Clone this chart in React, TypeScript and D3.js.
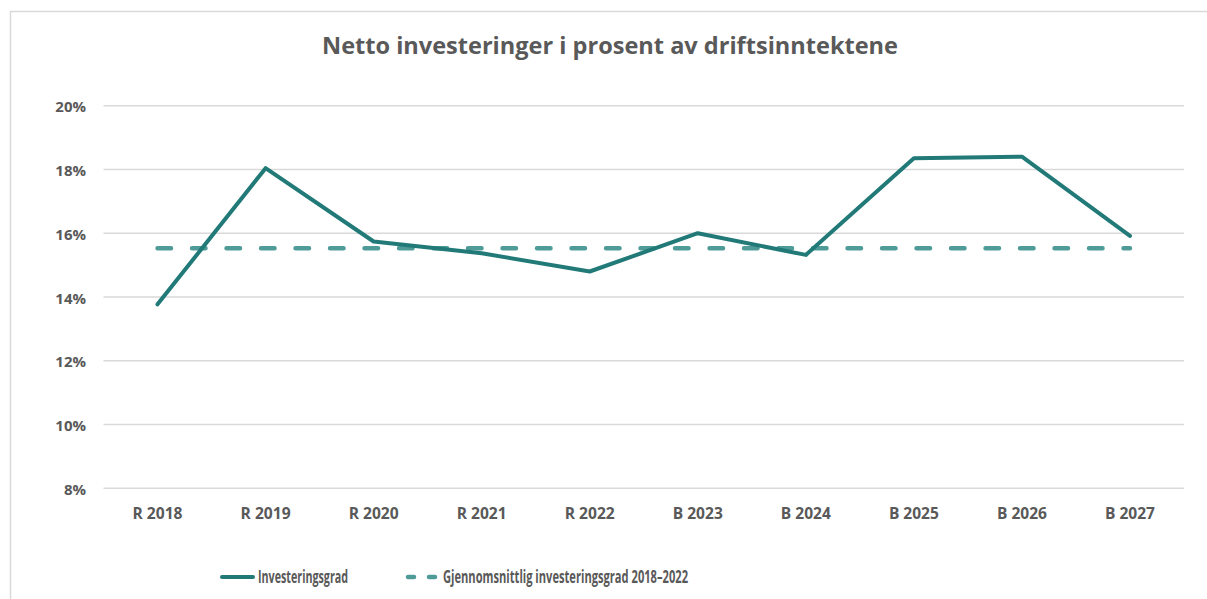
import React from "react";
import * as d3 from "d3";

const categories = ["R 2018", "R 2019", "R 2020", "R 2021", "R 2022", "B 2023", "B 2024", "B 2025", "B 2026", "B 2027"];
const investeringsgrad = [13.77, 18.04, 15.74, 15.37, 14.8, 16.0, 15.32, 18.35, 18.4, 15.92];
const gjennomsnitt = [15.53, 15.53, 15.53, 15.53, 15.53, 15.53, 15.53, 15.53, 15.53, 15.53];
const yTicks = [8, 10, 12, 14, 16, 18, 20];

const W = 1207;
const H = 599;
const left = 103.5;
const right = 1184;
const top = 105.7;
const bottom = 488.3;
const solidColor = "#217a77";
const dashColor = "#4f9b98";
const textColor = "#595959";
const font = "'Open Sans', 'Noto Sans', sans-serif";

export default function App() {
  const x = d3.scaleBand<string>().domain(categories).range([left, right]);
  const cx = (c: string) => (x(c) ?? 0) + x.bandwidth() / 2;
  const y = d3.scaleLinear().domain([8, 20]).range([bottom, top]);
  const line = d3
    .line<number>()
    .x((_, i) => cx(categories[i]))
    .y((d) => y(d));

  return (
    <div style={{ position: "absolute", left: 0, top: 0 }}>
      <svg width={W} height={H} style={{ display: "block" }}>
        <rect x={0} y={0} width={W} height={H} fill="#ffffff" />
        <path d={`M10.5,${H} V11.5 H${W}`} fill="none" stroke="#d9d9d9" strokeWidth={1.5} />
        <text
          x={610}
          y={53.5}
          textAnchor="middle"
          fontFamily={font}
          fontWeight={700}
          fontSize={23}
          fill={textColor}
          textLength={576}
          lengthAdjust="spacingAndGlyphs"
        >
          Netto investeringer i prosent av driftsinntektene
        </text>
        {yTicks.map((t) => (
          <g key={t}>
            <line x1={left} x2={right} y1={y(t)} y2={y(t)} stroke="#d9d9d9" strokeWidth={1.5} />
            <text
              x={86}
              y={y(t) + 6.7}
              textAnchor="end"
              fontFamily={font}
              fontWeight={700}
              fontSize={15}
              fill={textColor}
            >
              {t}%
            </text>
          </g>
        ))}
        {categories.map((c) => (
          <text
            key={c}
            x={cx(c)}
            y={519}
            textAnchor="middle"
            fontFamily={font}
            fontWeight={700}
            fontSize={16}
            fill={textColor}
            textLength={50}
            lengthAdjust="spacingAndGlyphs"
          >
            {c}
          </text>
        ))}
        <path
          d={line(gjennomsnitt) ?? ""}
          fill="none"
          stroke={dashColor}
          strokeWidth={4.5}
          strokeDasharray="13.5 21"
          strokeLinecap="round"
        />
        <path
          d={line(investeringsgrad) ?? ""}
          fill="none"
          stroke={solidColor}
          strokeWidth={4}
          strokeLinejoin="round"
          strokeLinecap="round"
        />
        <g>
          <line x1={222} x2={253} y1={577} y2={577} stroke={solidColor} strokeWidth={4} strokeLinecap="round" />
          <text x={258} y={583.3} fontFamily={font} fontWeight={700} fontSize={17.5} fill={textColor} textLength={90} lengthAdjust="spacingAndGlyphs">
            Investeringsgrad
          </text>
          <line x1={408} x2={437} y1={577} y2={577} stroke={dashColor} strokeWidth={4.5} strokeDasharray="6 15" strokeLinecap="round" />
          <text x={443} y={583.3} fontFamily={font} fontWeight={700} fontSize={17.5} fill={textColor} textLength={245} lengthAdjust="spacingAndGlyphs">
            Gjennomsnittlig investeringsgrad 2018–2022
          </text>
        </g>
      </svg>
    </div>
  );
}
